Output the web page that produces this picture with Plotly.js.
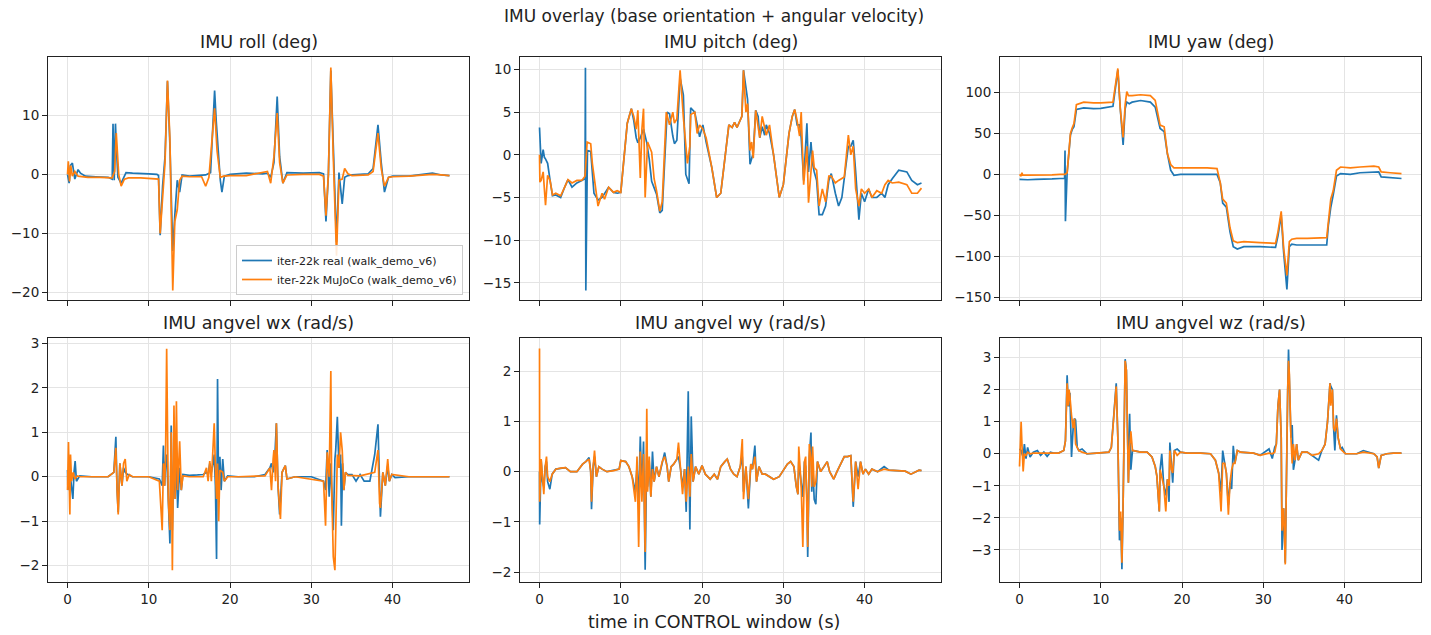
<!DOCTYPE html>
<html>
<head>
<meta charset="utf-8">
<script src="https://cdn.plot.ly/plotly-3.0.1.min.js"></script>
<style>html,body{margin:0;padding:0;background:#fff;}#chart{width:1431px;height:635px;}</style>
</head>
<body>
<div id="chart"></div>
<script>
// ---------------- DATA ----------------
const seriesNames = ["iter-22k real (walk_demo_v6)", "iter-22k MuJoCo (walk_demo_v6)"];
const panelTitles = ["IMU roll (deg)", "IMU pitch (deg)", "IMU yaw (deg)",
                     "IMU angvel wx (rad/s)", "IMU angvel wy (rad/s)", "IMU angvel wz (rad/s)"];
const xTicks = [0, 10, 20, 30, 40];

// roll
const tRollReal = [0,0.2,0.35,0.6,0.9,1.3,1.6,2.2,3.5,5.0,5.5,5.6,5.75,5.9,6.0,6.2,6.6,7.2,8,9,10,11,11.2,11.4,11.7,12.0,12.3,12.6,12.95,13.2,13.5,13.8,14.1,15,16,17.0,17.6,18.1,18.3,18.5,18.8,19.0,19.3,20,22,24,24.6,25.0,25.4,25.8,26.1,26.5,27,29,31,31.5,31.8,32.1,32.4,32.7,33.1,33.4,33.8,34.1,34.5,35,36,37,37.6,38.2,38.6,39.0,39.5,40,42,44.9,46,47];
const rollReal = [0,-1.5,1.5,1.9,-0.8,0.8,0.2,-0.3,-0.4,-0.5,-0.8,8.6,-1.0,8.6,5,-0.5,-1.5,0.3,0.2,0.2,0.1,0.0,-0.2,-10.3,-2,3,15.8,5,-13,-7,-1,-3,-0.1,-0.3,-0.2,-0.1,0.3,14.2,9,5,-1,-3,-0.3,0,0.2,0.1,0.2,-0.5,2,13.2,3,-1.5,0.3,0.2,0.3,0.1,-8,0,17.6,5,-11.5,0.3,-5,-0.5,-0.2,-0.1,0,0.1,1,8.4,2,-3,-0.5,-0.3,-0.3,0.2,-0.1,-0.2];
const tRollSim = [0,0.1,0.25,0.4,0.6,0.9,1.3,1.8,2.5,4,5.5,5.8,6.0,6.3,6.6,7.0,7.5,9,11,11.2,11.4,11.7,12.0,12.3,12.6,12.95,13.2,13.5,13.8,14.1,15,16.5,17.0,17.4,18.1,18.4,18.8,19.2,20,22,24.6,25.0,25.4,25.8,26.1,26.5,27,29,31,31.5,31.8,32.1,32.4,32.7,33.1,33.4,33.8,34.1,34.5,35,37,37.6,38.2,38.6,39.0,39.5,40,42,44.9,46,47];
const rollSim = [0,2.2,-1.2,1.5,-0.3,0.5,-0.3,-0.4,-0.5,-0.5,-0.6,0.5,7,0,-2,-0.8,-0.6,-0.6,-0.7,-0.8,-10,-3,2,15.9,6,-19.7,-8,-6,-1,-0.3,-0.4,-0.4,-2,-0.5,11.2,4,-0.5,-0.3,-0.2,-0.2,0.5,-1.5,3,10.4,2,-1.5,-0.1,0,0,-0.3,-7,0,18.1,3,-13.8,-1,-0.8,1,0.1,-0.2,-0.1,0.5,7,1,-2,-0.5,-0.4,-0.3,0,-0.1,-0.2];

// pitch
const tPitchReal = [0,0.2,0.45,0.6,0.75,1.0,1.3,1.6,2.0,2.6,3.0,3.5,4.0,4.6,5.2,5.6,5.65,5.7,5.9,6.3,6.7,7.2,7.7,8.5,9.1,9.6,10.0,10.8,11.3,11.6,11.9,12.1,12.4,12.8,13.2,13.5,13.8,14.4,14.8,15.1,15.7,16.0,16.4,16.6,16.9,17.3,17.7,18.0,18.4,18.6,19.1,19.4,19.7,20.1,20.5,21.2,21.8,22.3,22.7,23.3,23.7,24.0,24.3,24.9,25.1,25.4,25.6,25.9,26.1,26.3,26.6,26.9,27.1,27.4,27.7,27.9,28.3,28.8,29.5,30.0,30.7,31.1,31.4,31.7,32.0,32.2,32.5,32.9,33.1,33.4,33.6,33.8,34.1,34.4,34.8,35.2,35.6,35.9,36.4,36.8,37.2,37.5,38.0,38.3,38.6,38.9,39.3,39.6,40.0,40.5,40.9,41.5,42.1,42.5,42.9,43.4,44.2,45.2,45.8,46.5,47.0];
const pitchReal = [3.2,-1,0.6,-0.3,-0.5,-1,-3,-4.8,-4.7,-5,-4,-2.9,-3.8,-3.3,-3,-2.8,10.2,-15.9,0.5,0.4,-4.5,-5.3,-5,-3.8,-4.4,-4.5,-4.4,3.7,5.4,4,2,1.4,2,3,1.4,-0.5,-3.1,-4.6,-6.8,-6.5,5,4.8,2.2,1.3,1.7,9,7,-2.3,-3.4,5.5,5,3.5,2.1,3.5,1.5,-1.5,-5,-4.5,-1,3.5,3.2,3.8,3.2,4.5,9.9,8,6.5,-1.1,-0.3,0.2,5.2,4.5,2,3.3,2.3,3.5,2.5,0,-5,-3.5,2.5,4.5,5.3,3.5,3.5,2,-3,3.7,-2,1.5,-1,-2,-3,-7,-7,-6,-3,-2.2,-4.5,-6,-5,-2.5,1,1,1.7,-2,-7.6,-4.5,-5.5,-4,-5,-5,-4.5,-5,-3.5,-2.8,-1.8,-2.0,-3,-3.5,-3.3];
const tPitchSim = [0,0.05,0.2,0.45,0.74,1.0,1.3,1.6,2.0,2.6,3.0,3.5,4.0,4.6,5.2,5.6,5.86,6.3,6.5,6.7,6.9,7.2,7.7,8.0,8.5,9.1,9.55,10.0,10.8,11.3,11.6,11.9,12.1,12.4,12.6,12.8,13.0,13.3,13.8,14.1,14.4,14.8,15.1,15.6,16.0,16.4,16.6,16.9,17.3,17.7,18.2,18.5,18.6,19.1,19.4,19.7,20.1,20.5,21.2,21.8,22.3,22.7,23.3,23.7,24.0,24.3,24.9,25.1,25.4,25.6,25.9,26.1,26.3,26.6,26.9,27.1,27.4,27.7,27.9,28.3,28.8,29.5,30.0,30.7,31.1,31.4,31.7,32.0,32.2,32.5,32.9,33.1,33.4,33.6,33.8,34.1,34.4,34.8,35.2,35.6,35.9,36.4,36.8,37.2,37.5,38.0,38.3,38.6,38.9,39.3,39.6,40.0,40.5,40.9,41.5,42.1,42.5,42.9,43.4,44.2,45.2,45.8,46.5,47.0];
const pitchSim = [0,-3.2,-3,-2,-5.9,-2.4,-3,-4.7,-4.5,-4.8,-4,-2.9,-3.3,-3.0,-3,-2.5,1.5,1.3,-1,-2.5,-3.8,-6,-4.5,-5.2,-3.8,-4.4,-4.2,-4.4,3.7,5.4,4.5,3,5.2,-2.7,3,5.4,-5,1.5,0.3,-2.8,-4.2,-6.6,-5.5,5,3.5,5,3.7,4.2,9.9,4.4,-1,1,4.7,5,2.5,3.5,3,2,-1.5,-5,-4.5,-1,3.5,3.2,3.8,3.2,4.5,9.9,5,6,0.5,1.5,-0.4,5.2,3.5,2,4.5,3.3,2.3,3.5,0,-5,-3.5,2.5,4.5,5.3,4,2.2,5,-3.5,1,-5.6,-2,0.5,-1.5,-1.8,-6,-4,-5.5,-2.5,-2.5,-3.3,-3,-2.8,-2.6,2.3,0,1,-4,-6,-4,-4.5,-4,-5,-4.2,-4.5,-3.5,-3,-3.3,-3.2,-3.5,-4.5,-4.5,-3.9];

// yaw
const tYawReal = [0,1,2,3,4,5,5.55,5.6,5.65,5.86,6.27,6.5,6.7,7.0,7.9,9.1,10,11.5,11.9,12.1,12.4,12.75,13.0,13.2,13.5,13.85,14.9,16.1,16.7,17.3,17.8,18.2,18.6,19.0,19.8,21,23.1,24.3,24.7,25.0,25.45,25.9,26.3,26.8,27.6,29.6,31.5,31.8,32.2,32.5,32.9,33.2,33.5,34.1,35.4,37.8,38.0,38.3,38.6,39.0,39.5,40.7,41.9,43.6,44.2,44.5,45.6,47.0];
const yawReal = [-6,-6.5,-6,-6,-5.5,-5,-5,29,-57,2,48,55,58,79,81,80,80.5,83,110,127,80,36,80,88,86,88,90,88,82,56,52,25,5,-1,0,0,0,0,-10,-35,-40,-70,-88,-91,-88,-88,-89,-75,-50,-95,-140,-88,-85,-86,-86,-86,-62,-40,-25,-2,1,0,2,3,3,-3,-4,-5];
const tYawSim = [0,0.2,0.3,0.4,1,2,3,4,5,5.6,5.86,6.27,6.5,6.7,7.0,7.9,9.1,10,11.5,11.9,12.1,12.4,12.75,13.0,13.2,13.4,13.85,14.9,16.1,16.7,17.3,17.8,18.2,18.6,19.0,19.8,21,23.1,24.3,24.7,25.0,25.45,25.9,26.3,26.8,27.6,29.6,31.5,31.8,32.2,32.5,32.9,33.2,33.5,34.1,35.4,37.8,38.0,38.3,38.6,39.0,39.5,40.7,41.9,43.6,44.2,44.5,45.6,47.0];
const yawSim = [0,-2,2,-1,-1,-1,-0.5,-0.5,0,0,2,50,57,62,85,88,87,87,88,115,129,80,45,85,101,96,96,97,96,90,60,58,25,12,8,8,8,8,7,-10,-30,-35,-65,-81,-83,-82,-83,-84,-70,-45,-90,-123,-82,-79,-78,-78,-77,-60,-30,-20,5,9,8,9,10,9,3,2,1];

// angvel wx
const tWxReal = [0,0.05,0.3,0.66,0.8,0.94,1.1,1.5,3,5,5.7,5.95,6.1,6.24,6.44,6.7,6.9,7.1,7.4,8,10,11.3,11.65,11.8,11.95,12.06,12.2,12.4,12.6,12.76,12.9,13.1,13.25,13.4,13.55,13.8,14.0,14.2,15,16,16.7,17.1,17.3,17.5,17.7,17.9,18.05,18.2,18.34,18.46,18.6,18.75,18.9,19.1,19.3,19.7,21,23,24.3,24.9,25.1,25.3,25.5,25.7,25.9,26.1,26.4,26.8,27.0,28,30,31.5,31.75,31.95,32.2,32.4,32.5,32.7,32.9,33.0,33.2,33.4,33.6,33.7,33.85,34.0,34.2,34.5,35,35.5,36,36.5,37.2,37.8,38.2,38.35,38.5,38.8,39.1,39.4,39.6,39.9,40.3,42,44,46,47];
const wxReal = [0.15,-0.3,0.1,-0.5,0.1,0.35,-0.1,0.02,0,0,0.1,0.9,-0.3,-0.8,0.3,-0.2,0.2,0.1,0.05,0,0,-0.05,-0.2,0.7,-0.2,0.3,0.5,-0.5,-1.5,1.15,-1.2,0.5,-0.5,0.6,-0.7,0.2,-0.3,0.05,0.03,0.04,0.05,0.1,0.05,0.3,0.1,0.3,0.5,-0.2,-1.85,2.2,-0.5,0.45,-0.3,0.4,-0.1,0.02,0,0,0.05,0.2,0.3,0.1,0.4,1.2,-0.2,-0.85,0.1,0.25,-0.05,0,0,-0.1,-0.3,0.6,-0.45,0.3,-0.2,-1.2,0.4,0.6,1.35,0.2,0.5,-1.1,0.3,-0.3,0.1,0.05,0.05,-0.1,0.05,-0.1,-0.1,0.5,1.18,0.2,-0.9,0.1,-0.2,0.25,-0.1,0.05,-0.02,0,0,0,0];
const tWxSim = [0,0.12,0.29,0.37,0.5,0.7,0.9,1.2,1.6,3,5,5.7,5.95,6.1,6.24,6.44,6.7,6.9,7.1,7.3,7.6,8,10,11.3,11.65,11.8,11.95,12.06,12.2,12.4,12.6,12.76,12.9,13.1,13.25,13.4,13.55,13.8,14.0,14.2,15,16.7,17.1,17.3,17.5,17.7,17.9,18.05,18.2,18.34,18.46,18.6,18.75,19.1,19.3,19.7,21,24.3,24.9,25.1,25.3,25.4,25.6,25.7,25.9,26.2,26.4,26.8,27.0,28,31.5,31.75,31.95,32.2,32.4,32.5,32.7,32.9,33.2,33.4,33.6,33.8,34.0,34.2,34.5,36,37.8,38.2,38.4,38.5,38.8,39.1,39.4,39.6,39.9,42,47];
const wxSim = [-0.3,0.78,-0.85,0.5,-0.1,0.1,-0.05,0.02,0,0,0,0.1,0.65,-0.3,-0.85,0.3,-0.2,0.3,0.4,-0.1,0.05,0,0,-0.1,-1.2,0.3,-0.2,0.4,2.88,-0.5,-1.2,1.0,-2.1,1.6,-0.5,1.7,-0.3,0.8,-0.3,0.02,0,0,0.2,-0.1,0.35,-0.1,0.5,1.2,0.2,-0.5,0.3,-1.0,0.15,0.1,-0.1,0,0,0.02,0.2,-0.3,0.4,0.6,-0.1,1.2,-0.2,-0.95,0.1,0.25,-0.05,0,-0.1,-1.1,0.55,0,2.38,-0.2,-1.8,-2.1,0.5,0.2,1.0,0.6,-0.3,0.1,0.03,0.02,0.1,0.6,-0.6,-0.7,0.1,-0.2,0.4,-0.1,0.05,0,0];

// angvel wy
const tWy = [0,0.02,0.2,0.37,0.53,0.7,0.86,1.0,1.27,1.56,2.0,2.6,3.2,3.8,4.6,5.3,5.7,6.1,6.3,6.4,6.6,6.77,7.0,7.3,7.7,8.3,9.15,9.8,10.0,10.6,11.0,11.4,11.8,12.0,12.2,12.4,12.6,12.8,13.0,13.2,13.3,13.5,13.7,13.9,14.1,14.4,14.7,15.1,15.4,15.7,15.9,16.2,16.5,16.9,17.1,17.35,17.6,17.85,18.05,18.3,18.5,18.67,18.9,19.2,19.6,20.0,20.4,21.0,21.5,21.9,22.3,22.8,23.1,23.5,23.9,24.3,24.7,24.95,25.1,25.4,25.7,26.0,26.2,26.5,26.7,27.0,27.4,27.8,28.4,28.8,29.5,30.1,30.5,30.9,31.3,31.6,31.8,31.9,32.2,32.4,32.6,32.75,32.9,33.0,33.2,33.4,33.5,33.6,33.8,34.0,34.2,34.6,35.0,35.4,35.7,36.2,36.6,37.0,37.5,37.9,38.3,38.6,38.9,39.2,39.5,39.8,40.1,40.5,40.9,41.6,42.4,43.0,43.8,45.0,45.7,46.1,46.7,47.0];
const wyReal = [0,-1.05,0.25,-0.2,-0.3,0.1,0.2,-0.2,-0.35,-0.05,0.05,0.07,0.08,0,0,0.15,0.2,0.28,0,-0.75,0.1,0.3,-0.1,0.1,0.05,0,0.02,0.05,0.22,0.2,0.1,-0.1,-0.4,0.1,-0.6,0.7,-0.4,0.6,-1.95,0.4,-0.3,0.2,-0.5,0.4,-0.2,0.1,-0.1,0.2,0.38,0.1,-0.2,0.1,0.15,0.25,0.3,0.05,-0.3,0.05,-0.8,1.6,-1.15,1.1,-0.2,0.1,-0.05,0.12,-0.05,-0.15,-0.05,-0.15,0.1,0.2,0.25,0.05,-0.05,-0.1,0.1,0.3,-0.4,0.1,-0.73,0.15,0.05,0.52,-0.2,0.1,-0.05,-0.05,-0.1,-0.15,-0.1,0.05,0.15,0.2,0.1,-0.3,-0.45,0.2,-0.3,-0.5,0.2,0.1,-0.5,-1.7,0.3,0.78,-0.4,0.2,-0.55,-0.65,0.2,0,0.1,0.2,0,-0.15,0,0.15,0.3,0.3,0.32,-0.7,0.2,-0.1,0.2,-0.05,0.05,-0.05,0.05,0,0.1,0.03,0.02,0.01,-0.05,-0.02,0.03,0.02];
const wySim = [2.45,-0.6,0.25,-0.1,-0.45,0.1,0.3,-0.1,-0.2,-0.05,0.05,0.07,0.08,0,0,0.15,0.2,0.25,0,-0.6,0.1,0.42,-0.1,0.1,0.05,0,0.02,0.05,0.22,0.2,0.1,-0.1,-0.6,0.3,-1.5,0.4,-0.6,0.35,-1.6,1.25,-0.4,0.3,-0.5,0.05,-0.2,0.1,-0.1,0.2,0.3,0.1,-0.2,0.1,0.15,0.25,0.58,0,-0.45,0.05,-0.6,0.1,-0.5,0.35,-0.2,0.1,-0.05,0.12,-0.05,-0.15,-0.05,-0.15,0.1,0.2,0.25,0.05,-0.05,-0.1,0.1,0.65,-0.55,0.1,-0.55,0.15,0.05,0.3,-0.2,0.1,-0.05,-0.05,-0.1,-0.15,-0.1,0.05,0.15,0.2,0.1,-0.3,-0.45,0.5,-0.3,-1.5,0.2,0.3,-0.5,-1.5,0.55,0.2,-0.3,0.5,-0.3,-0.2,0.2,0,0.1,0.2,0,-0.15,0,0.15,0.3,0.3,0.32,-0.6,0.2,-0.35,0.2,-0.05,0.05,-0.05,0.05,0,0.05,0.03,0.02,0.01,-0.05,-0.02,0.03,0.02];

// angvel wz
const tWz = [0,0.2,0.3,0.45,0.6,0.8,1.0,1.3,1.7,2.2,2.6,3.0,3.4,3.8,4.2,4.8,5.45,5.65,5.86,6.0,6.1,6.2,6.4,6.6,6.76,6.9,7.1,7.3,7.7,8.3,9.5,10.4,11.0,11.3,11.6,11.9,12.1,12.2,12.3,12.45,12.6,12.75,12.9,13.0,13.15,13.3,13.4,13.55,13.7,13.9,14.05,14.9,15.7,16.3,16.7,16.9,17.2,17.3,17.5,17.75,18.0,18.2,18.4,18.5,18.7,18.85,19.05,19.4,19.8,20.6,22.3,23.5,24.1,24.5,24.8,25.0,25.25,25.45,25.7,25.9,26.1,26.3,26.5,26.8,27.2,28.8,29.6,30.7,31.1,31.4,31.6,31.8,32.0,32.2,32.3,32.5,32.7,32.8,33.0,33.1,33.2,33.4,33.55,33.7,33.9,34.1,34.3,34.75,35.4,36.0,36.8,37.2,37.6,37.9,38.2,38.3,38.5,38.65,38.8,39.0,39.2,39.5,39.7,40.1,41.5,42.3,43.6,44.0,44.2,44.5,45.2,46.0,47.0];
const wzReal = [0.15,0.1,0.0,-0.1,0.3,-0.15,0.2,-0.1,0.05,0.1,-0.05,0.05,-0.08,0.05,0.02,0.02,0.1,0.4,2.45,1.5,1.5,1.9,-0.1,0.8,1.1,1.05,0.2,0.1,0.15,0,0.02,0.05,0.05,0.2,1.2,2.2,0.5,-1.5,-2.7,-2.0,-3.6,-1.5,2.0,2.95,2.6,0.8,-0.9,1.25,-0.5,0.1,0.1,0.05,0.05,-0.1,-0.4,-0.7,-1.8,-0.5,0.0,-1.0,-1.3,-0.8,-1.5,0.35,-0.5,-0.9,0.1,0.15,0.05,0.02,0.02,0,-0.2,-0.6,-1.2,0.1,-0.3,-0.6,-1.6,-0.9,-1.1,0.25,-0.3,0.1,0.05,0.02,-0.05,0.15,-0.15,0.2,0.3,1.5,2.0,0.5,-3.0,-1.7,-3.4,-1.0,2.0,3.25,2.5,0.5,0.9,-0.5,-0.2,0.3,-0.2,0.05,0.05,-0.05,-0.2,0.1,0.3,1.0,2.2,2.1,2.0,0.8,0.1,1.2,0.5,0.15,0.2,0,0,0.1,0,-0.1,-0.45,-0.05,0,0.02,0.02];
const wzSim = [-0.4,1.0,0.3,-0.55,0.0,-0.05,0.05,0,0.02,0.02,0,0.02,0,0.02,0.02,0.02,0.1,0.4,2.2,1.5,2.0,1.8,1.2,0.8,1.1,0.3,0.2,0.1,0.05,0,0.02,0.05,0.05,0.2,1.2,2.1,0.5,-1.8,-2.4,-1.8,-3.4,-1.5,2.0,2.9,2.6,0.8,-0.9,0.2,0.7,0.1,0.1,0.05,0.05,-0.1,-0.4,-0.7,-1.8,-0.5,-0.7,-1.0,-1.8,-0.8,-1.0,0.1,-0.5,-0.6,0.1,-0.05,0.05,0.02,0.02,0,-0.2,-0.6,-1.8,-0.3,-0.3,-0.6,-1.9,-0.9,-0.5,-0.3,-0.3,0.1,0.05,0.02,-0.05,0.02,0,0.05,0.3,1.5,2.0,0.5,-2.4,-1.7,-3.45,-1.0,2.0,2.9,2.5,0.5,-0.3,0.3,-0.2,0.3,-0.2,0.05,0.05,-0.05,0,0.1,0.3,1.0,2.2,1.5,2.0,0.8,0.7,1.1,0.5,0.15,0.1,0,0,0.05,0,-0.1,-0.45,-0.05,0,0.02,0.02];

// ---------------- STYLE / LAYOUT ----------------
const FONT = "DejaVu Sans, Liberation Sans, sans-serif";
const BLUE = "#1f77b4", ORANGE = "#ff7f0e";
const W = 1431, H = 635;

const panels = [
  {tr: tRollReal, vr: rollReal, ts: tRollSim, vs: rollSim, yr: [-21.3, 19.9], dt: 10},
  {tr: tPitchReal, vr: pitchReal, ts: tPitchSim, vs: pitchSim, yr: [-17.0, 11.45], dt: 5},
  {tr: tYawReal, vr: yawReal, ts: tYawSim, vs: yawSim, yr: [-153, 143], dt: 50},
  {tr: tWxReal, vr: wxReal, ts: tWxSim, vs: wxSim, yr: [-2.36, 3.12], dt: 1},
  {tr: tWy, vr: wyReal, ts: tWy, vs: wySim, yr: [-2.19, 2.66], dt: 1},
  {tr: tWz, vr: wzReal, ts: tWz, vs: wzSim, yr: [-3.99, 3.61], dt: 1}
];

const colPx = [[48, 469], [520, 941], [1000, 1421]];
const rowPx = [[57, 300], [338, 581.7]];

const traces = [];
const layout = {
  width: W, height: H,
  margin: {l: 0, r: 0, t: 0, b: 0},
  paper_bgcolor: "#fff", plot_bgcolor: "#fff",
  font: {family: FONT, color: "#222"},
  showlegend: true,
  legend: {
    x: 463 / W, xanchor: "right", y: 1 - 295 / H, yanchor: "bottom",
    bgcolor: "rgba(255,255,255,0.85)", bordercolor: "#cccccc", borderwidth: 1,
    font: {family: FONT, size: 11, color: "#222"},
    tracegroupgap: 0
  },
  annotations: [],
  hovermode: false
};

panels.forEach((p, i) => {
  const r = Math.floor(i / 3), c = i % 3;
  const n = i + 1;
  const xa = n === 1 ? "x" : "x" + n, ya = n === 1 ? "y" : "y" + n;
  const xKey = n === 1 ? "xaxis" : "xaxis" + n, yKey = n === 1 ? "yaxis" : "yaxis" + n;
  const axisCommon = {
    showline: true, mirror: true, linecolor: "#222", linewidth: 1,
    ticks: "outside", ticklen: 5, tickwidth: 1, tickcolor: "#222",
    showgrid: true, gridcolor: "#e4e4e4", gridwidth: 1, zeroline: false,
    tickfont: {family: FONT, size: 13.5, color: "#222"}, fixedrange: true
  };
  layout[xKey] = Object.assign({}, axisCommon, {
    domain: [colPx[c][0] / W, colPx[c][1] / W], anchor: ya,
    range: [-2.4, 49.4], tickmode: "array", tickvals: xTicks,
    showticklabels: r === 1
  });
  layout[yKey] = Object.assign({}, axisCommon, {
    domain: [1 - rowPx[r][1] / H, 1 - rowPx[r][0] / H], anchor: xa,
    range: p.yr, tickmode: "linear", tick0: 0, dtick: p.dt
  });
  traces.push({x: p.tr, y: p.vr, xaxis: xa, yaxis: ya, type: "scatter", mode: "lines",
    line: {color: BLUE, width: 1.7}, name: seriesNames[0], showlegend: i === 0, legendrank: 1});
  traces.push({x: p.ts, y: p.vs, xaxis: xa, yaxis: ya, type: "scatter", mode: "lines",
    line: {color: ORANGE, width: 1.7}, name: seriesNames[1], showlegend: i === 0, legendrank: 2});
  const titleY = r === 0 ? 42 : 323;
  layout.annotations.push({
    text: panelTitles[i], xref: "paper", yref: "paper",
    x: (colPx[c][0] + colPx[c][1]) / 2 / W, y: 1 - titleY / H,
    xanchor: "center", yanchor: "middle", showarrow: false,
    font: {family: FONT, size: 17.5, color: "#222"}
  });
});

layout.annotations.push({
  text: "IMU overlay (base orientation + angular velocity)", xref: "paper", yref: "paper",
  x: 714 / W, y: 1 - 16 / H, xanchor: "center", yanchor: "middle", showarrow: false,
  font: {family: FONT, size: 17, color: "#222"}
});
layout.annotations.push({
  text: "time in CONTROL window (s)", xref: "paper", yref: "paper",
  x: 714 / W, y: 1 - 622 / H, xanchor: "center", yanchor: "middle", showarrow: false,
  font: {family: FONT, size: 17.5, color: "#222"}
});

Plotly.newPlot("chart", traces, layout, {displayModeBar: false, staticPlot: true});
</script>
</body>
</html>
